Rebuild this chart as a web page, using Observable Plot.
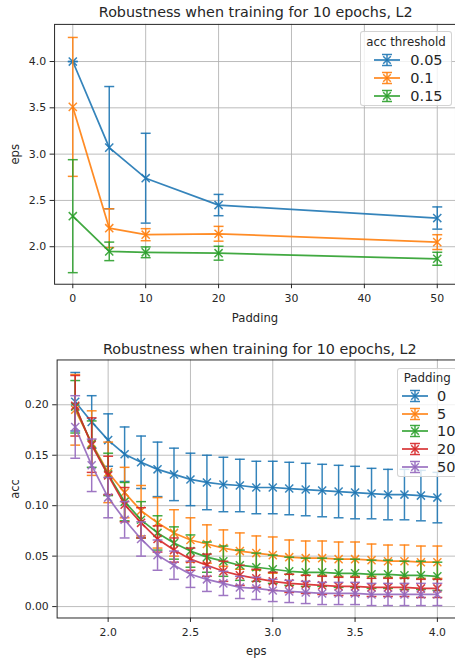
<!DOCTYPE html>
<html>
<head>
<meta charset="utf-8">
<script src="https://cdn.jsdelivr.net/npm/d3@7"></script>
<script src="https://cdn.jsdelivr.net/npm/@observablehq/plot@0.6"></script>
<style>
  html, body { margin: 0; padding: 0; background: #fff; overflow: hidden; width: 455px; height: 660px; }
  #page { position: relative; width: 455px; height: 660px; font-family: "DejaVu Sans", sans-serif; color: #262626; overflow: hidden; }
  .panel { position: absolute; left: 0; }
  .panel g[aria-label="x-axis label"], .panel g[aria-label="y-axis label"] { font-size: 11.7px; }
  .title { position: absolute; font-size: 14.3px; white-space: nowrap; transform: translate(-50%, -50%); }
  .legend { position: absolute; background: rgba(255,255,255,0.8); border: 1px solid rgba(200,200,200,0.8); border-radius: 3px; box-sizing: border-box; }
  .legend .ltitle { position: absolute; left: 0; right: 0; text-align: center; font-size: 11.8px; transform: translateY(-50%); }
  .legend .row { position: absolute; left: 0; height: 16px; transform: translateY(-50%); display: flex; align-items: center; }
  .legend .row span { font-size: 14.5px; }
</style>
</head>
<body>
<div id="page"></div>
<script>
// ---- Robustness vs padding (top panel) ----
const paddings = [0, 5, 10, 20, 50];
const thresholdLabels = ["0.05", "0.1", "0.15"];
const epsThr005 = [4.00, 3.07, 2.74, 2.45, 2.31];
const errThr005 = [0.00, 0.66, 0.485, 0.115, 0.12];
const epsThr010 = [3.51, 2.20, 2.13, 2.14, 2.05];
const errThr010 = [0.75, 0.21, 0.065, 0.08, 0.08];
const epsThr015 = [2.33, 1.95, 1.94, 1.93, 1.87];
const errThr015 = [0.61, 0.10, 0.058, 0.075, 0.07];
const paddingTicks = [0, 10, 20, 30, 40, 50];
const epsTicks = [2.0, 2.5, 3.0, 3.5, 4.0];

// ---- Accuracy vs eps (bottom panel) ----
const epsValues = [1.8, 1.9, 2.0, 2.1, 2.2, 2.3, 2.4, 2.5, 2.6, 2.7, 2.8, 2.9, 3.0, 3.1, 3.2, 3.3, 3.4, 3.5, 3.6, 3.7, 3.8, 3.9, 4.0];
const paddingLabels = ["0", "5", "10", "20", "50"];
const accPad0  = [0.203, 0.183, 0.165, 0.151, 0.143, 0.136, 0.131, 0.126, 0.123, 0.121, 0.120, 0.118, 0.118, 0.117, 0.116, 0.115, 0.114, 0.113, 0.112, 0.111, 0.111, 0.110, 0.108];
const errPad0  = [0.029, 0.026, 0.026, 0.027, 0.026, 0.027, 0.026, 0.026, 0.027, 0.027, 0.026, 0.026, 0.026, 0.026, 0.026, 0.026, 0.026, 0.026, 0.025, 0.025, 0.025, 0.025, 0.025];
const accPad5  = [0.195, 0.162, 0.133, 0.113, 0.095, 0.083, 0.073, 0.066, 0.062, 0.058, 0.055, 0.053, 0.051, 0.049, 0.048, 0.048, 0.047, 0.047, 0.046, 0.045, 0.045, 0.044, 0.044];
const errPad5  = [0.035, 0.032, 0.030, 0.025, 0.025, 0.025, 0.023, 0.022, 0.019, 0.018, 0.018, 0.017, 0.018, 0.017, 0.017, 0.017, 0.017, 0.017, 0.016, 0.016, 0.016, 0.016, 0.016];
const accPad10 = [0.198, 0.161, 0.131, 0.104, 0.086, 0.073, 0.063, 0.055, 0.049, 0.045, 0.041, 0.039, 0.037, 0.035, 0.034, 0.034, 0.033, 0.033, 0.032, 0.032, 0.031, 0.031, 0.030];
const errPad10 = [0.026, 0.023, 0.021, 0.019, 0.018, 0.017, 0.016, 0.016, 0.015, 0.015, 0.015, 0.014, 0.014, 0.014, 0.014, 0.014, 0.014, 0.014, 0.014, 0.014, 0.014, 0.014, 0.014];
const accPad20 = [0.199, 0.160, 0.130, 0.101, 0.083, 0.067, 0.056, 0.047, 0.041, 0.035, 0.031, 0.028, 0.025, 0.023, 0.022, 0.021, 0.020, 0.020, 0.019, 0.019, 0.019, 0.018, 0.018];
const errPad20 = [0.030, 0.027, 0.019, 0.017, 0.015, 0.013, 0.012, 0.011, 0.011, 0.010, 0.010, 0.009, 0.009, 0.009, 0.009, 0.009, 0.009, 0.009, 0.009, 0.009, 0.009, 0.009, 0.009];
const accPad50 = [0.178, 0.140, 0.108, 0.086, 0.067, 0.051, 0.041, 0.032, 0.027, 0.023, 0.019, 0.018, 0.016, 0.015, 0.014, 0.013, 0.013, 0.013, 0.012, 0.012, 0.012, 0.012, 0.012];
const errPad50 = [0.031, 0.026, 0.020, 0.018, 0.017, 0.015, 0.014, 0.013, 0.012, 0.012, 0.011, 0.011, 0.011, 0.011, 0.011, 0.011, 0.011, 0.011, 0.011, 0.011, 0.011, 0.011, 0.011];
const epsTicksX = [2.0, 2.5, 3.0, 3.5, 4.0];
const accTicks = [0.00, 0.05, 0.10, 0.15, 0.20];

const palette = ["#1f77b4", "#ff7f0e", "#2ca02c", "#d62728", "#9467bd"];
const chartTitle = "Robustness when training for 10 epochs, L2";

// Build series tables {label, color, rows:[{x, y, lo, hi}]}
function makeSeries(labels, xs, means, errs) {
  return labels.map((label, i) => ({
    label,
    color: palette[i],
    rows: xs.map((x, j) => ({x, y: means[i][j], lo: means[i][j] - errs[i][j], hi: means[i][j] + errs[i][j]}))
  }));
}
const topSeries = makeSeries(thresholdLabels, paddings,
  [epsThr005, epsThr010, epsThr015], [errThr005, errThr010, errThr015]);
const bottomSeries = makeSeries(paddingLabels, epsValues,
  [accPad0, accPad5, accPad10, accPad20, accPad50], [errPad0, errPad5, errPad10, errPad20, errPad50]);

// Horizontal error-bar cap drawn as a dot symbol
const capSymbol = {
  draw(context, size) {
    const w = Math.sqrt(size / Math.PI);
    context.moveTo(-w, 0);
    context.lineTo(w, 0);
  }
};

function seriesMarks(series) {
  return series.flatMap(s => [
    Plot.ruleX(s.rows, {x: "x", y1: "lo", y2: "hi", stroke: s.color, strokeWidth: 1.5, strokeOpacity: 0.9}),
    Plot.dot(s.rows, {x: "x", y: "lo", symbol: capSymbol, r: 5, fill: "none", stroke: s.color, strokeWidth: 1.5, strokeOpacity: 0.9}),
    Plot.dot(s.rows, {x: "x", y: "hi", symbol: capSymbol, r: 5, fill: "none", stroke: s.color, strokeWidth: 1.5, strokeOpacity: 0.9}),
    Plot.line(s.rows, {x: "x", y: "y", stroke: s.color, strokeWidth: 1.75, strokeOpacity: 0.9}),
    Plot.dot(s.rows, {x: "x", y: "y", symbol: "times", r: 3.8, fill: "none", stroke: s.color, strokeWidth: 1.5, strokeOpacity: 0.9})
  ]);
}

const ink = "#262626";
const grid = "#b0b0b0";

function panel({series, width, height, marginLeft, marginTop, marginBottom, xDomain, yDomain, xTicks, yTicks, xFormat, yFormat, xLabel, yLabel}) {
  return Plot.plot({
    width, height, marginLeft, marginRight: 0, marginTop, marginBottom,
    style: {fontFamily: "DejaVu Sans, sans-serif", fontSize: "11px", color: ink, background: "transparent", overflow: "visible"},
    x: {domain: xDomain},
    y: {domain: yDomain},
    marks: [
      Plot.gridX(xTicks, {stroke: grid, strokeOpacity: 0.85, strokeWidth: 1}),
      Plot.gridY(yTicks, {stroke: grid, strokeOpacity: 0.85, strokeWidth: 1}),
      ...seriesMarks(series),
      Plot.frame({stroke: ink, strokeWidth: 1}),
      Plot.axisX(xTicks, {tickFormat: xFormat, tickSize: 4.5, tickPadding: 5.5, fontSize: 11, stroke: ink, fill: ink,
        label: xLabel, labelAnchor: "center", labelArrow: "none", labelOffset: 38}),
      Plot.axisY(yTicks, {tickFormat: yFormat, tickSize: 4.5, tickPadding: 4, fontSize: 11, stroke: ink, fill: ink,
        label: yLabel, labelAnchor: "center", labelArrow: "none", labelOffset: marginLeft - 10})
    ]
  });
}

const page = document.getElementById("page");

function place(el, top) {
  el.classList.add("panel");
  el.style.top = top + "px";
  page.appendChild(el);
}

function addTitle(text, cx, cy) {
  const d = document.createElement("div");
  d.className = "title";
  d.textContent = text;
  d.style.left = cx + "px";
  d.style.top = cy + "px";
  page.appendChild(d);
}

function addLegend(series, title, {left, top, width, height, titleY, rowY, rowStep, handleX, textX}) {
  const box = d3.select(page).append("div").attr("class", "legend")
    .style("left", left + "px").style("top", top + "px")
    .style("width", width + "px").style("height", height + "px");
  box.append("div").attr("class", "ltitle").style("top", titleY + "px").text(title);
  series.forEach((s, i) => {
    const row = box.append("div").attr("class", "row")
      .style("top", (rowY + i * rowStep) + "px").style("left", handleX + "px");
    const svg = row.append("svg").attr("width", 26).attr("height", 16)
      .style("overflow", "visible").attr("stroke", s.color).attr("stroke-width", 1.5).attr("fill", "none").attr("stroke-opacity", 0.9);
    svg.append("line").attr("x1", 0).attr("x2", 26).attr("y1", 8).attr("y2", 8).attr("stroke-width", 1.75);
    svg.append("line").attr("x1", 13).attr("x2", 13).attr("y1", 2.5).attr("y2", 13.5);
    svg.append("line").attr("x1", 8).attr("x2", 18).attr("y1", 2.5).attr("y2", 2.5);
    svg.append("line").attr("x1", 8).attr("x2", 18).attr("y1", 13.5).attr("y2", 13.5);
    svg.append("path").attr("d", "M9.2,4.2L16.8,11.8M9.2,11.8L16.8,4.2");
    row.append("span").style("margin-left", (textX - handleX - 26) + "px").text(s.label);
  });
}

// Top panel: eps vs padding
place(panel({
  series: topSeries, width: 457, height: 325, marginLeft: 54.3, marginTop: 24, marginBottom: 40,
  xDomain: [-2.5, 52.5], yDomain: [1.595, 4.401], xTicks: paddingTicks, yTicks: epsTicks,
  xFormat: d3.format("d"), yFormat: d3.format(".1f"), xLabel: "Padding", yLabel: "eps"
}), 0);
addTitle(chartTitle, 255.7, 12.3);
addLegend(topSeries, "acc threshold", {left: 360, top: 31, width: 92, height: 75, titleY: 9.7, rowY: 28.3, rowStep: 18, handleX: 13.3, textX: 49.3});

// Bottom panel: acc vs eps
place(panel({
  series: bottomSeries, width: 462, height: 337, marginLeft: 57.5, marginTop: 35, marginBottom: 40,
  xDomain: [1.69, 4.11], yDomain: [-0.0113, 0.2444], xTicks: epsTicksX, yTicks: accTicks,
  xFormat: d3.format(".1f"), yFormat: d3.format(".2f"), xLabel: "eps", yLabel: "acc"
}), 325);
addTitle(chartTitle, 259.8, 348.5);
addLegend(bottomSeries, "Padding", {left: 397.3, top: 367.7, width: 60, height: 109, titleY: 9.3, rowY: 27.3, rowStep: 17.7, handleX: 3.4, textX: 38.7});
</script>
</body>
</html>
